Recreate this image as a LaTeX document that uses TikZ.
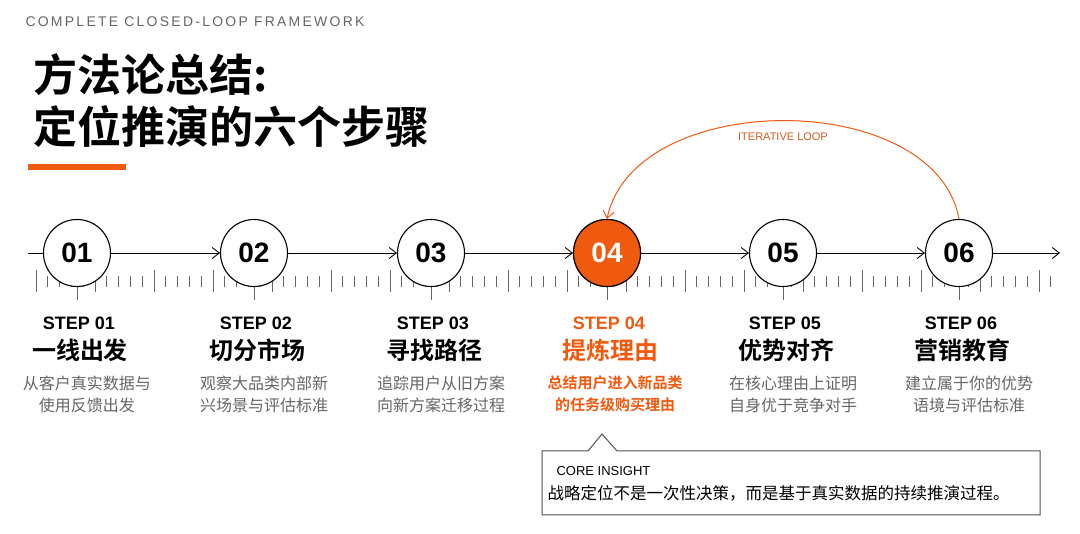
\documentclass[tikz,border=0pt]{standalone}
\usepackage{fontspec}
\setmainfont{Liberation Sans}
\newfontfamily\cjk{Noto Sans CJK SC}
\newfontfamily\cjkb{Noto Sans CJK SC Bold}
\newfontfamily\spaced[LetterSpace=16]{Liberation Sans}
\usetikzlibrary{arrows.meta}
\definecolor{org}{HTML}{F05A0F}
\definecolor{gry}{HTML}{666666}
\begin{document}
\begin{tikzpicture}[x=1pt,y=-1pt,
  stepc/.style={circle,draw=black,line width=1.1pt,fill=white,minimum size=67pt,inner sep=0pt,font=\fontsize{28}{28}\selectfont\bfseries},
  stepl/.style={font=\fontsize{18}{18}\selectfont\bfseries},
  stept/.style={font=\cjkb\fontsize{24}{24}\selectfont},
  stepd/.style={font=\cjk\fontsize{16}{22}\selectfont,text=gry,align=center},
  arr/.style={-{Straight Barb[length=7pt,width=11pt]},line width=0.9pt}]
\useasboundingbox (0,0) rectangle (1080,534);
\fill[white] (0,0) rectangle (1080,534);
\node[anchor=west,text=gry,font=\spaced\fontsize{14}{14}\selectfont] (hdr) at (22,22) {COMPLETE CLOSED-LOOP FRAMEWORK};
\node[anchor=west,font=\cjkb\fontsize{44}{52}\selectfont,align=left] (ttl) at (30,101) {方法论总结:\\定位推演的六个步骤};
\fill[org] (28,164) rectangle (126,170);
% ticks
\foreach \i in {0,...,86}{
  \pgfmathsetmacro\xx{36+\i*11.8}
  \pgfmathtruncatemacro\m{mod(\i,5)}
  \ifnum\m=0 \draw[gry,line width=0.9pt] (\xx,270)--(\xx,292);
  \else \draw[gry,line width=0.8pt] (\xx,276)--(\xx,287); \fi
}
\coordinate (s) at (28,253);
\coordinate (e) at (1060,253);
\foreach \n/\x in {1/77,2/254,3/431,4/607,5/783,6/959}{
  \draw[gry,line width=0.9pt] (\x,287)--(\x,300);
  \node[stepc] (c\n) at (\x,253) {0\n};
}
\node[stepc,fill=org,text=white] at (c4) {04};
\draw[line width=0.9pt] (s)--(c1);
\draw[arr] (c1)--(c2); \draw[arr] (c2)--(c3); \draw[arr] (c3)--(c4);
\draw[arr] (c4)--(c5); \draw[arr] (c5)--(c6); \draw[arr] (c6)--(e);
% loop
\draw[org,line width=1pt,-{Straight Barb[length=7pt,width=11pt]}] (c6.north) .. controls (935,88) and (635,88) .. (c4.north);
\node[fill=white,text=org!80!gry,font=\fontsize{11}{11}\selectfont,inner sep=4pt] (lp) at (783,137) {ITERATIVE LOOP};
% labels
\foreach \n/\x/\t/\a/\b in {1/77/一线出发/从客户真实数据与/使用反馈出发,2/254/切分市场/观察大品类内部新/兴场景与评估标准,3/431/寻找路径/追踪用户从旧方案/向新方案迁移过程,5/783/优势对齐/在核心理由上证明/自身优于竞争对手,6/959/营销教育/建立属于你的优势/语境与评估标准}{
  \node[stepl] (l\n) at (\x+2,323) {STEP 0\n};
  \node[stept] (t\n) at (\x+3,350) {\t};
  \node[stepd] (d\n) at (\x+10,394) {\a\\\b};
}
\node[stepl,text=org] (l4) at (609,323) {STEP 04};
\node[stept,text=org] (t4) at (610,350) {提炼理由};
\node[stepd,text=org,font=\cjkb\fontsize{15}{22}\selectfont] (d4) at (615,394) {总结用户进入新品类\\的任务级购买理由};
% callout
\draw[gry!80!black,line width=1pt,fill=white] (542,451)--(588,451)--(602,434)--(617,451)--(1040,451)--(1040,515)--(542,515)--cycle;
\node[anchor=west,font=\fontsize{13}{13}\selectfont] (ci) at (553,471) {CORE INSIGHT};
\node[anchor=west,font=\cjk\fontsize{16.5}{17}\selectfont] (ct) at (544,493) {战略定位不是一次性决策，而是基于真实数据的持续推演过程。};
\end{tikzpicture}
\end{document}
